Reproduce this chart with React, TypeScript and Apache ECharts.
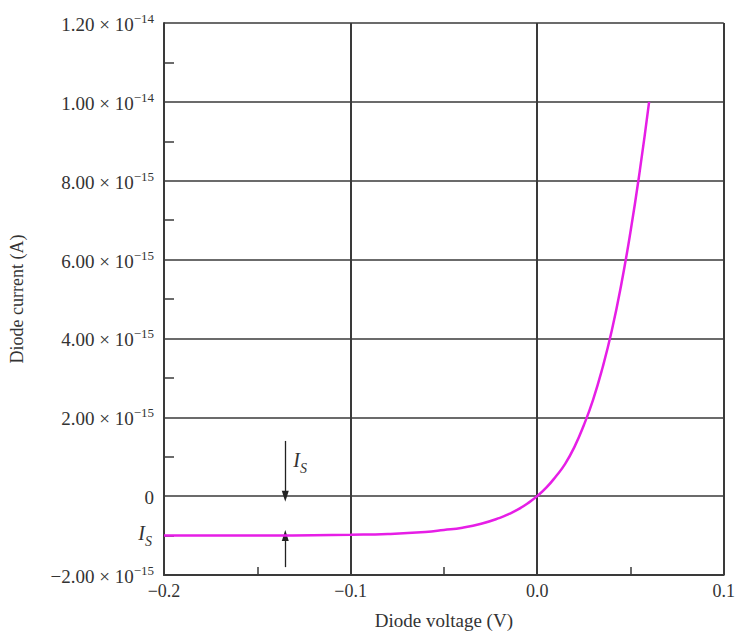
import React, { useEffect, useRef } from "react";
import * as echarts from "echarts";

// Diode voltage (V)
const voltage = [
  -0.2, -0.15, -0.12, -0.1, -0.08, -0.06, -0.05, -0.04, -0.03, -0.02, -0.015, -0.01, -0.005,
  0, 0.005, 0.01, 0.015, 0.02, 0.025, 0.03, 0.035, 0.04, 0.045, 0.05, 0.055, 0.06,
];
// Diode current in units of 1e-15 A
const current = [
  -1.0, -1.0, -0.99, -0.98, -0.96, -0.91, -0.86, -0.8, -0.7, -0.55, -0.45, -0.33, -0.18,
  0, 0.22, 0.5, 0.82, 1.25, 1.8, 2.45, 3.25, 4.2, 5.35, 6.7, 8.25, 10.0,
];

const xTickLabels = ["\u22120.2", "\u22120.1", "0.0", "0.1"];
const yTickMantissa = ["\u22122.00 \u00d7 10", "0", "2.00 \u00d7 10", "4.00 \u00d7 10", "6.00 \u00d7 10", "8.00 \u00d7 10", "1.00 \u00d7 10", "1.20 \u00d7 10"];
const yTickExponent = ["\u221215", "", "\u221215", "\u221215", "\u221215", "\u221215", "\u221214", "\u221214"];

const isArrowX = -0.135;
const isArrowTop = 1.4;
const isArrowBottom = -1.8;
const isLevel = -1.0;

const SERIF = "'Liberation Serif', 'DejaVu Serif', serif";

export default function App() {
  const ref = useRef<HTMLDivElement>(null);
  useEffect(() => {
    if (!ref.current) return;
    const chart = echarts.init(ref.current, null, { renderer: "svg" });
    const textColor = "#333";
    const gridColor = "#3a3a3a";
    const isRich = {
      i: { fontFamily: SERIF, fontStyle: "italic", fontSize: 20, color: textColor, lineHeight: 26, verticalAlign: "top" },
      s: { fontFamily: SERIF, fontStyle: "italic", fontSize: 14, color: textColor, lineHeight: 14, verticalAlign: "bottom" },
    };
    chart.setOption({
      animation: false,
      backgroundColor: "#fff",
      grid: { left: 162, right: 13, top: 23, bottom: 57, containLabel: false },
      xAxis: {
        type: "value",
        min: -0.2,
        max: 0.1,
        interval: 0.1,
        name: "Diode voltage (V)",
        nameLocation: "middle",
        nameGap: 36,
        nameTextStyle: { fontFamily: SERIF, fontSize: 19, color: textColor },
        axisLine: { show: true, onZero: false, lineStyle: { color: gridColor, width: 2 } },
        axisTick: { show: false, inside: true },
        minorTick: { show: true, splitNumber: 2, length: 8, lineStyle: { color: gridColor, width: 1.5 } },
        axisLabel: {
          fontFamily: SERIF,
          fontSize: 18,
          color: textColor,
          margin: 7,
          formatter: (v: number) => xTickLabels[Math.round((v + 0.2) / 0.1)] ?? "",
        },
        splitLine: { show: true, lineStyle: { color: gridColor, width: 2 } },
      },
      yAxis: {
        type: "value",
        min: -2,
        max: 12,
        interval: 2,
        name: "Diode current (A)",
        nameLocation: "middle",
        nameGap: 138,
        nameRotate: 90,
        nameTextStyle: { fontFamily: SERIF, fontSize: 18, color: textColor },
        axisLine: { show: true, onZero: false, lineStyle: { color: gridColor, width: 2 } },
        axisTick: { show: false, inside: true },
        minorTick: { show: true, splitNumber: 2, length: 10, lineStyle: { color: gridColor, width: 1.5 } },
        axisLabel: {
          fontFamily: SERIF,
          fontSize: 19,
          color: textColor,
          margin: 10,
          formatter: (v: number) => {
            const i = Math.round((v + 2) / 2);
            const m = yTickMantissa[i] ?? "";
            const e = yTickExponent[i] ?? "";
            return e ? `{m|${m}}{e|${e}}` : `{m|${m}}`;
          },
          rich: {
            m: { fontFamily: SERIF, fontSize: 19, color: textColor, lineHeight: 22, verticalAlign: "bottom" },
            e: { fontFamily: SERIF, fontSize: 13, color: textColor, lineHeight: 14, verticalAlign: "top" },
          },
        },
        splitLine: { show: true, lineStyle: { color: gridColor, width: 1.5 } },
      },
      series: [
        {
          type: "line",
          data: voltage.map((v, i) => [v, current[i]]),
          smooth: true,
          showSymbol: false,
          symbol: "none",
          lineStyle: { color: "#e61ee6", width: 2.5 },
          z: 5,
          markLine: {
            silent: true,
            symbol: ["none", "triangle"],
            symbolSize: [7, 11],
            label: { show: false },
            lineStyle: { color: "#222", width: 1.3, type: "solid" },
            data: [
              [
                { coord: [isArrowX, isArrowTop], symbol: "none" },
                { coord: [isArrowX, 0], symbol: "triangle" },
              ],
              [
                { coord: [isArrowX, isArrowBottom], symbol: "none" },
                { coord: [isArrowX, isLevel], symbol: "triangle" },
              ],
            ],
          },
          markPoint: {
            silent: true,
            symbol: "circle",
            symbolSize: 0,
            data: [
              {
                coord: [isArrowX, 0.85],
                label: { show: true, position: "right", distance: 8, formatter: "{i|I}{s|S}", rich: isRich },
              },
              {
                coord: [-0.2, isLevel],
                label: { show: true, position: "left", distance: 12, formatter: "{i|I}{s|S}", rich: isRich },
              },
            ],
          },
        },
      ],
    });
    return () => chart.dispose();
  }, []);
  return (
    <div
      ref={ref}
      style={{ position: "fixed", left: 0, top: 0, width: 738, height: 635, background: "#fff" }}
    />
  );
}
